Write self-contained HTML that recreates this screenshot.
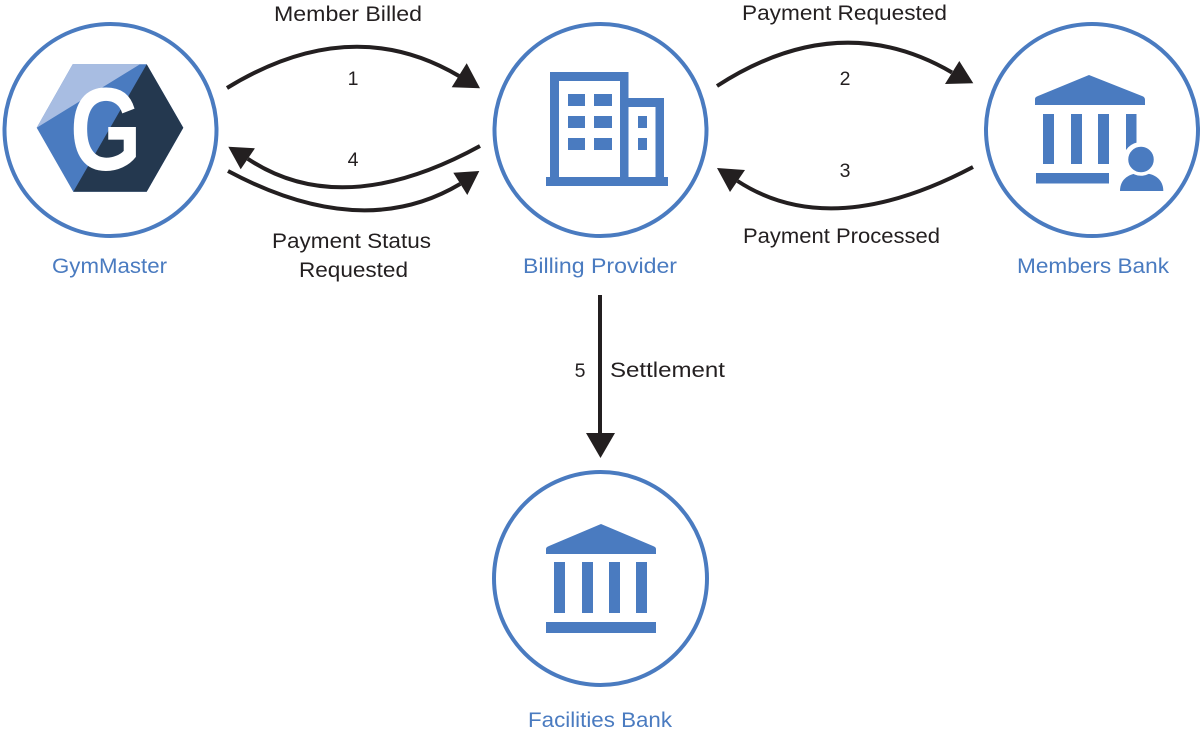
<!DOCTYPE html>
<html>
<head>
<meta charset="utf-8">
<style>
  html,body{margin:0;padding:0;background:#fff;}
  body{width:1200px;height:734px;overflow:hidden;}
  svg{display:block;}
  .lbl{font-family:"Liberation Sans",sans-serif;font-size:21px;fill:#231f20;}
  .num{font-family:"Liberation Sans",sans-serif;font-size:19.5px;fill:#231f20;}
  .blue{font-family:"Liberation Sans",sans-serif;font-size:21px;fill:#4a7bc0;}
</style>
</head>
<body>
<svg width="1200" height="734" viewBox="0 0 1200 734" xmlns="http://www.w3.org/2000/svg">
  <!-- Circles -->
  <g fill="none" stroke="#4a7bc0" stroke-width="4">
    <circle cx="110.5" cy="130" r="106"/>
    <circle cx="600.5" cy="130" r="106"/>
    <circle cx="1092" cy="130" r="106"/>
    <circle cx="600.5" cy="578.5" r="106.5"/>
  </g>

  <!-- GymMaster logo -->
  <polygon points="72.7,64.3 146.7,64.3 183.3,127.7 146.7,191.7 73.3,191.7 36.7,127.7" fill="#4a7bc0"/>
  <polygon points="72.7,64.3 140,64.3 36.7,127.7" fill="#a8bde2"/>
  <polygon points="146.7,64.3 183.3,127.7 146.7,191.7 73.3,191.7" fill="#24384f"/>
  <g transform="translate(70,170) scale(0.78,1)">
    <text x="0" y="0" font-family="Liberation Sans, sans-serif" font-weight="bold" font-size="118" fill="#fff">G</text>
  </g>

  <!-- Billing provider building -->
  <g fill="#4a7bc0">
    <rect x="550" y="72" width="9" height="106"/>
    <rect x="550" y="72" width="78" height="9"/>
    <rect x="620" y="72" width="8.5" height="106"/>
    <rect x="620" y="98" width="44" height="9"/>
    <rect x="655.5" y="98" width="8.5" height="80"/>
    <rect x="546" y="177" width="122" height="9"/>
    <rect x="568" y="94" width="17" height="12"/>
    <rect x="594" y="94" width="18" height="12"/>
    <rect x="568" y="116" width="17" height="12"/>
    <rect x="594" y="116" width="18" height="12"/>
    <rect x="568" y="138" width="17" height="12"/>
    <rect x="594" y="138" width="18" height="12"/>
    <rect x="638" y="116" width="9" height="12"/>
    <rect x="638" y="138" width="9" height="12"/>
  </g>

  <!-- Members bank -->
  <g fill="#4a7bc0">
    <path d="M1035,99 Q1035,97 1038,96 L1089,75 L1142,96 Q1145,97 1145,100 L1145,105 L1035,105 Z"/>
    <rect x="1043" y="114" width="11" height="50"/>
    <rect x="1071" y="114" width="11" height="50"/>
    <rect x="1098" y="114" width="11" height="50"/>
    <rect x="1126" y="114" width="10.5" height="50"/>
    <rect x="1036" y="173" width="73" height="10.5"/>
  </g>
  <circle cx="1141" cy="160" r="18" fill="#fff"/>
  <path d="M1120,191 C1120,179 1129,173 1141.6,173 C1154,173 1163.3,179 1163.3,191 Z" fill="#4a7bc0"/>
  <circle cx="1141" cy="159.5" r="14.5" fill="#4a7bc0" stroke="#fff" stroke-width="3.5"/>

  <!-- Facilities bank -->
  <g fill="#4a7bc0">
    <path d="M546,549 Q546,547 549,546 L601,524 L653,546 Q656,547 656,549 L656,554 L546,554 Z"/>
    <rect x="554" y="562" width="11" height="51"/>
    <rect x="582" y="562" width="11" height="51"/>
    <rect x="609" y="562" width="11" height="51"/>
    <rect x="636" y="562" width="11" height="51"/>
    <rect x="546" y="622" width="110" height="11"/>
  </g>

  <!-- Connectors -->
  <g fill="none" stroke="#231f20" stroke-width="4">
    <path d="M227,88 Q351,12 459,76"/>
    <path d="M480,146 Q342,221.6 247.8,158.8"/>
    <path d="M228,171 Q362,242.6 460.3,183.9"/>
    <path d="M717,86 Q839.5,6.8 952,72.5"/>
    <path d="M973,167 Q830.8,242 737.5,181"/>
    <path d="M600,295 L600,436"/>
  </g>
  <g fill="#231f20">
    <polygon points="466.7,63.3 451.7,87.3 480,88.3"/>
    <polygon points="228.3,146.7 255,148.3 240.7,169.3"/>
    <polygon points="453.3,172.7 479.3,171 467.3,195"/>
    <polygon points="959.3,61 945,84 973.3,83.3"/>
    <polygon points="717,168 745,170 730,192"/>
    <polygon points="586,433 615,433 600.5,458"/>
  </g>

  <!-- Black labels -->
  <text class="lbl" x="274" y="21" textLength="148" lengthAdjust="spacingAndGlyphs">Member Billed</text>
  <text class="lbl" x="742" y="20" textLength="205" lengthAdjust="spacingAndGlyphs">Payment Requested</text>
  <text class="lbl" x="272" y="248" textLength="159" lengthAdjust="spacingAndGlyphs">Payment Status</text>
  <text class="lbl" x="299" y="277" textLength="109" lengthAdjust="spacingAndGlyphs">Requested</text>
  <text class="lbl" x="743" y="243" textLength="197" lengthAdjust="spacingAndGlyphs">Payment Processed</text>
  <text class="lbl" x="610" y="377" textLength="115" lengthAdjust="spacingAndGlyphs">Settlement</text>

  <text class="num" x="353" y="85" text-anchor="middle">1</text>
  <text class="num" x="353" y="166" text-anchor="middle">4</text>
  <text class="num" x="845" y="85" text-anchor="middle">2</text>
  <text class="num" x="845" y="177" text-anchor="middle">3</text>
  <text class="num" x="580" y="377" text-anchor="middle">5</text>

  <!-- Blue labels -->
  <text class="blue" x="52" y="273" textLength="115" lengthAdjust="spacingAndGlyphs">GymMaster</text>
  <text class="blue" x="523" y="273" textLength="154" lengthAdjust="spacingAndGlyphs">Billing Provider</text>
  <text class="blue" x="1017" y="273" textLength="152" lengthAdjust="spacingAndGlyphs">Members Bank</text>
  <text class="blue" x="528" y="727" textLength="144" lengthAdjust="spacingAndGlyphs">Facilities Bank</text>
</svg>
</body>
</html>
